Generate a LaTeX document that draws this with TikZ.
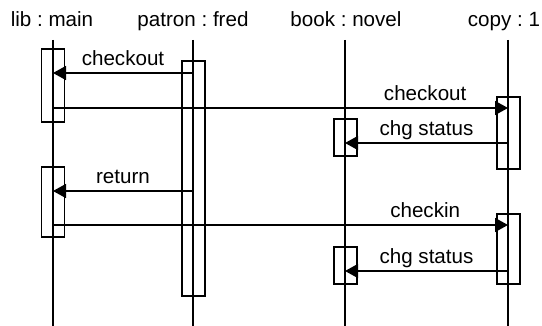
\documentclass[tikz,border=0pt]{standalone}
\usepackage{fontspec}
\setmainfont{Liberation Sans}
\usetikzlibrary{arrows.meta}
\frenchspacing
\begin{document}
\begin{tikzpicture}[x=0.5pt,y=-0.5pt,
        hdr/.style={anchor=base,inner sep=0pt,font=\fontsize{10.3}{12}\selectfont},
        lbl/.style={anchor=base,inner sep=0pt,yshift=3.5pt,font=\fontsize{10.3}{12}\selectfont},
        life/.style={line width=0.65pt},
        act/.style={line width=0.65pt},
        msg/.style={-{Triangle[length=6.5pt,width=7pt]},line width=0.65pt}]
        \useasboundingbox (0,0) rectangle (542,326);
        % objects
        \node[hdr] (libH) at (52,27) {lib : main};
        \node[hdr] (patronH) at (193,27) {patron : fred};
        \node[hdr] (bookH) at (346,27) {book : novel};
        \node[hdr] (copyH) at (504,27) {copy : 1};
        \coordinate (lib) at (53,40);
        \coordinate (patron) at (193,40);
        \coordinate (book) at (345,40);
        \coordinate (copy) at (508,40);
        % lifelines
        \draw[life] (lib) -- (lib |- 0,326);
        \draw[life] (patron) -- (patron |- 0,326);
        \draw[life] (book) -- (book |- 0,326);
        \draw[life] (copy) -- (copy |- 0,326);
        % activations
        \draw[act] (41.5,49) rectangle (64.5,122);
        \draw[act] (41.5,167) rectangle (64.5,237);
        \draw[act] (182,61) rectangle (205,296);
        \draw[act] (334,119) rectangle (357,156);
        \draw[act] (334,247) rectangle (357,284);
        \draw[act] (497,97) rectangle (520,169);
        \draw[act] (497,214) rectangle (520,284);
        % messages
        \draw[msg] (patron |- 0,73) -- node[lbl] {checkout} (lib |- 0,73);
        \draw[msg] (lib |- 0,108) -- node[lbl,pos=0.818] {checkout} (copy |- 0,108);
        \draw[msg] (copy |- 0,143) -- node[lbl] {chg status} (book |- 0,143);
        \draw[msg] (patron |- 0,191) -- node[lbl] {return} (lib |- 0,191);
        \draw[msg] (lib |- 0,225) -- node[lbl,pos=0.818] {checkin} (copy |- 0,225);
        \draw[msg] (copy |- 0,271) -- node[lbl] {chg status} (book |- 0,271);
\end{tikzpicture}
\end{document}
